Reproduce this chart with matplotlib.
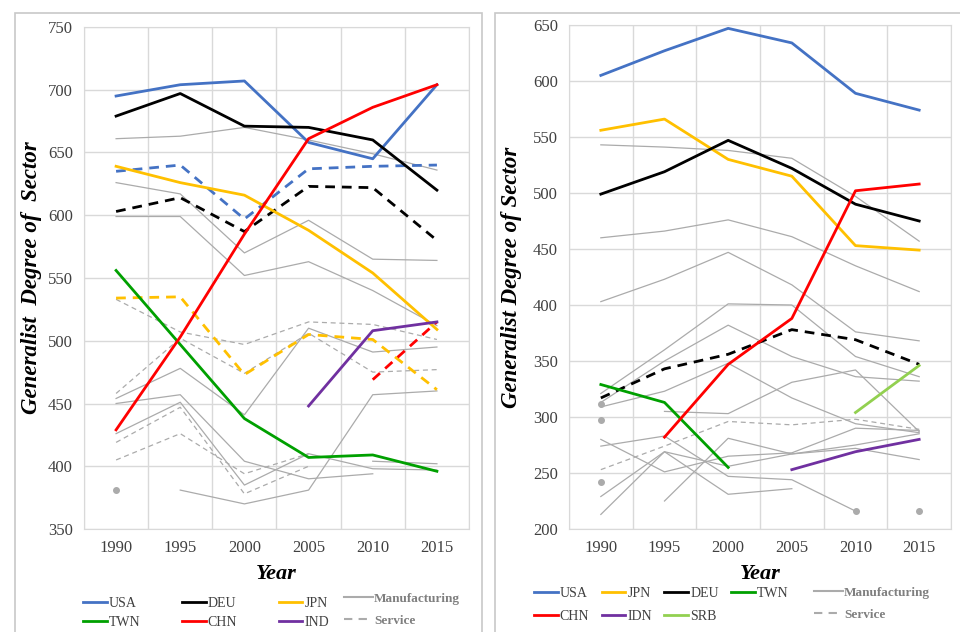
import matplotlib.pyplot as plt
import numpy as np
from matplotlib.lines import Line2D
from matplotlib.patches import Rectangle

nan = np.nan
years = ["1990", "1995", "2000", "2005", "2010", "2015"]

# left panel - country lines (solid = manufacturing, dashed = service)
usa_m = [695, 704, 707, 658, 645, 704]
usa_s = [635, 640, 597, 637, 639, 640]
deu_m = [679, 697, 671, 670, 660, 620]
deu_s = [603, 614, 587, 623, 622, 580]
jpn_m = [639, 626, 616, 588, 554, 509]
jpn_s = [534, 535, 473, 505, 501, 461]
twn_m = [556, 497, 438, 407, 409, 396]
chn_m = [429, 503, 585, 661, 686, 704]
chn_s = [nan, nan, nan, nan, 469, 515]
ind_m = [nan, nan, nan, 448, 508, 515]

# left panel - other sectors (grey)
left_manuf = [
    [661, 663, 670, 660, 649, 636],
    [626, 617, 570, 596, 565, 564],
    [599, 599, 552, 563, 540, 512],
    [454, 478, 441, 510, 491, 495],
    [450, 457, 404, 390, 394, nan],
    [426, 451, 385, 410, 398, 397],
    [nan, 381, 370, 381, 457, 460],
    [nan, nan, nan, nan, 404, 402],
    [381, nan, nan, nan, nan, nan],
]
left_serv = [
    [533, 507, 497, 515, 513, 501],
    [458, 502, 474, 506, 475, 477],
    [419, 447, 378, 400, nan, nan],
    [405, 426, 394, 410, nan, nan],
]

# right panel - country lines
r_usa_m = [605, 627, 647, 634, 589, 574]
r_jpn_m = [556, 566, 530, 515, 453, 449]
r_deu_m = [499, 519, 547, 522, 490, 475]
r_deu_s = [317, 343, 356, 378, 369, 347]
r_twn_m = [329, 313, 255, nan, nan, nan]
r_chn_m = [nan, 282, 347, 388, 502, 508]
r_idn_m = [nan, nan, nan, 253, 269, 280]
r_srb_m = [nan, nan, nan, nan, 304, 346]

# right panel - other sectors (grey)
right_manuf = [
    [543, 541, 538, 531, 497, 457],
    [460, 466, 476, 461, 435, 412],
    [403, 423, 447, 418, 376, 368],
    [321, 360, 401, 400, 354, 336],
    [313, 350, 382, 354, 336, 332],
    [309, 323, 348, 317, 294, 286],
    [nan, 305, 303, 331, 342, 287],
    [280, 251, 265, 268, 290, 288],
    [274, 283, 247, 244, 216, nan],
    [229, 269, 256, 267, 275, 285],
    [213, 269, 231, 236, nan, nan],
    [nan, 225, 281, 267, 272, 262],
    [312, nan, nan, nan, nan, nan],
    [297, nan, nan, nan, nan, nan],
    [242, nan, nan, nan, nan, nan],
    [nan, nan, nan, nan, 216, nan],
    [nan, nan, nan, nan, nan, 216],
]
right_serv = [
    [253, 274, 296, 293, 298, 289],
]

BLUE = "#4472C4"
YEL = "#FFC000"
GRN = "#00A000"
RED = "#FF0000"
PUR = "#7030A0"
LGRN = "#92D050"
GREY = "#ABABAB"
GRID = "#D9D9D9"
TXT = "#404040"

plt.rcParams["font.family"] = ["Liberation Serif", "DejaVu Serif"]

fig = plt.figure(figsize=(9.6, 6.32), dpi=100)

# panel frames
fig.patches.append(Rectangle((15 / 960, -0.05), 467 / 960, 1.05 - 13 / 632,
                             transform=fig.transFigure, fill=False,
                             edgecolor="#C8C8C8", lw=1.2))
fig.patches.append(Rectangle((495 / 960, -0.05), 470 / 960, 1.05 - 13 / 632,
                             transform=fig.transFigure, fill=False,
                             edgecolor="#C8C8C8", lw=1.2))

axL = fig.add_axes([84 / 960, 1 - 529 / 632, 385 / 960, 502 / 632])
axR = fig.add_axes([569 / 960, 1 - 529 / 632, 382 / 960, 504 / 632])
x = np.arange(len(years))


def style_axis(ax, ylim, step):
    ax.set_xlim(-0.5, 5.5)
    ax.set_ylim(*ylim)
    ax.set_yticks(np.arange(ylim[0], ylim[1] + 1, step))
    ax.set_xticks(x)
    ax.set_xticklabels(years)
    ax.set_xticks(np.arange(-0.5, 6, 1), minor=True)
    ax.grid(True, which="minor", axis="x", color=GRID, lw=1)
    ax.grid(True, which="major", axis="y", color=GRID, lw=1)
    ax.tick_params(which="both", length=0, labelsize=12, colors=TXT, pad=8)
    for s in ax.spines.values():
        s.set_color(GRID)
    ax.set_axisbelow(True)


def grey_lines(ax, manuf, serv):
    for v in manuf:
        ax.plot(x, v, color=GREY, lw=0.9, marker="o", markersize=0 if np.sum(~np.isnan(v)) > 1 else 4)
    for v in serv:
        ax.plot(x, v, color=GREY, lw=0.9, ls=(0, (4, 3)))


DASH = (0, (3.5, 2.5))

# left panel
grey_lines(axL, left_manuf, left_serv)
axL.plot(x, usa_s, color=BLUE, lw=2, ls=DASH)
axL.plot(x, deu_s, color="black", lw=2, ls=DASH)
axL.plot(x, jpn_s, color=YEL, lw=2, ls=DASH)
axL.plot(x, chn_s, color=RED, lw=2, ls=DASH)
axL.plot(x, usa_m, color=BLUE, lw=2)
axL.plot(x, deu_m, color="black", lw=2)
axL.plot(x, jpn_m, color=YEL, lw=2)
axL.plot(x, twn_m, color=GRN, lw=2)
axL.plot(x, chn_m, color=RED, lw=2)
axL.plot(x, ind_m, color=PUR, lw=2)
style_axis(axL, (350, 750), 50)
axL.set_xlabel("Year", fontsize=16, fontweight="bold", style="italic", labelpad=6)
axL.set_ylabel("Generalist  Degree of  Sector", fontsize=16.5, fontweight="bold", style="italic")
axL.yaxis.set_label_coords(-0.108, 0.5)

# right panel
grey_lines(axR, right_manuf, right_serv)
axR.plot(x, r_deu_s, color="black", lw=2, ls=DASH)
axR.plot(x, r_usa_m, color=BLUE, lw=2)
axR.plot(x, r_jpn_m, color=YEL, lw=2)
axR.plot(x, r_deu_m, color="black", lw=2)
axR.plot(x, r_twn_m, color=GRN, lw=2)
axR.plot(x, r_chn_m, color=RED, lw=2)
axR.plot(x, r_idn_m, color=PUR, lw=2)
axR.plot(x, r_srb_m, color=LGRN, lw=2)
style_axis(axR, (200, 650), 50)
axR.set_xlabel("Year", fontsize=16, fontweight="bold", style="italic", labelpad=6)
axR.set_ylabel("Generalist Degree of Sector", fontsize=16.5, fontweight="bold", style="italic")
axR.yaxis.set_label_coords(-0.122, 0.5)


def h(c, ls="-"):
    return Line2D([], [], color=c, lw=2, ls=ls)


sector_handles = [Line2D([], [], color=GREY, lw=1.5),
                  Line2D([], [], color=GREY, lw=1.5, ls=(0, (4, 3)))]
sector_labels = ["Manufacturing", "Service"]

# left legends
leg1 = fig.legend([h(BLUE), h(GRN), h("black"), h(RED), h(YEL), h(PUR)],
                  ["USA", "TWN", "DEU", "CHN", "JPN", "IND"],
                  ncol=3, loc="upper left", bbox_to_anchor=(76 / 960, 1 - 590 / 632),
                  frameon=False, fontsize=10, handlelength=1.7, handletextpad=0.15,
                  columnspacing=3.0, labelspacing=0.4, borderpad=0, labelcolor=TXT)
leg2 = fig.legend(sector_handles, sector_labels, loc="upper left",
                  bbox_to_anchor=(337 / 960, 1 - 586 / 632), frameon=False,
                  handlelength=2.2, handletextpad=0.1, labelspacing=0.75,
                  borderpad=0, labelcolor="#7F7F7F", prop={"weight": "bold", "size": 9.5})

# right legends
leg3 = fig.legend([h(BLUE), h(RED), h(YEL), h(PUR), h("black"), h(LGRN), h(GRN)],
                  ["USA", "CHN", "JPN", "IDN", "DEU", "SRB", "TWN"],
                  ncol=4, loc="upper left", bbox_to_anchor=(527 / 960, 1 - 580 / 632),
                  frameon=False, fontsize=10, handlelength=1.7, handletextpad=0.15,
                  columnspacing=0.9, labelspacing=0.7, borderpad=0, labelcolor=TXT)
leg4 = fig.legend(sector_handles, sector_labels, loc="upper left",
                  bbox_to_anchor=(807 / 960, 1 - 580 / 632), frameon=False,
                  handlelength=2.2, handletextpad=0.1, labelspacing=0.75,
                  borderpad=0, labelcolor="#7F7F7F", prop={"weight": "bold", "size": 9.5})

fig.savefig("out.png", dpi=100)
